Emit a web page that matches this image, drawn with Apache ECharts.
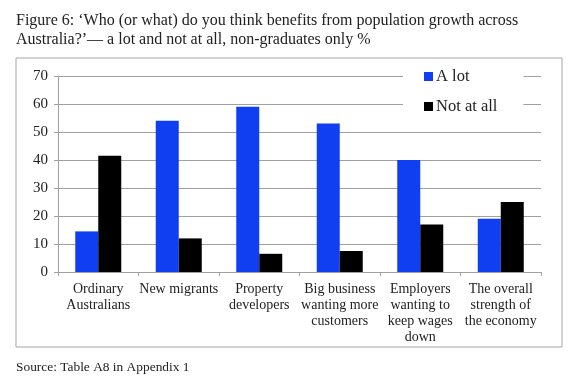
<!DOCTYPE html>
<html><head><meta charset="utf-8">
<style>html,body{margin:0;padding:0;background:#fff}#c{width:578px;height:392px}</style>
<script src="https://cdn.jsdelivr.net/npm/echarts@6/dist/echarts.min.js"></script>
</head><body><div id="c"></div>
<script>
const categories = ["Ordinary\nAustralians","New migrants","Property\ndevelopers","Big business\nwanting more\ncustomers","Employers\nwanting to\nkeep wages\ndown","The overall\nstrength of\nthe economy"];
const aLot = [14.5,54,59,53,40,19];
const notAtAll = [41.5,12,6.5,7.5,17,25];
const yTicks = {min:0,max:70,interval:10};
const serif = '"Liberation Serif"';
const chart = echarts.init(document.getElementById('c'),null,{renderer:'canvas'});
chart.setOption({
  animation:false,
  backgroundColor:'#fff',
  title:[
    {text:"Figure 6: ‘Who (or what) do you think benefits from population growth across\nAustralia?’— a lot and not at all, non-graduates only %",left:16,top:11,padding:0,
     textStyle:{fontFamily:serif,fontSize:16,fontWeight:'normal',color:'#222',lineHeight:19.5}},
    {text:"Source: Table A8 in Appendix 1",left:16,top:361,padding:0,
     textStyle:{fontFamily:serif,fontSize:13.4,fontWeight:'normal',color:'#222'}}
  ],
  graphic:[{type:'rect',z:-1,shape:{x:16,y:58,width:546,height:289},style:{fill:'#fff',stroke:'#a6a6a6',lineWidth:1}}],
  legend:{orient:'vertical',left:403,top:62,itemWidth:9,itemHeight:9,itemGap:13,padding:[6,26,6,21],
    backgroundColor:'#fff',z:5,icon:'rect',
    textStyle:{fontFamily:serif,fontSize:16.5,color:'#222',padding:[6,0,0,-2]},
    data:['A lot','Not at all']},
  grid:{left:58,right:37,top:76,bottom:120,containLabel:false},
  xAxis:{type:'category',data:categories,
    axisLine:{lineStyle:{color:'#a0a0a0'}},
    axisTick:{show:true,alignWithLabel:false,length:4,inside:false,lineStyle:{color:'#a0a0a0'}},
    axisLabel:{interval:0,margin:9,fontFamily:serif,fontSize:14,color:'#222',lineHeight:16}},
  yAxis:{type:'value',min:yTicks.min,max:yTicks.max,interval:yTicks.interval,
    axisLine:{show:true,lineStyle:{color:'#a0a0a0'}},
    axisTick:{show:true,length:4,lineStyle:{color:'#a0a0a0'}},
    splitLine:{lineStyle:{color:'#a0a0a0'}},
    axisLabel:{margin:10,fontFamily:serif,fontSize:15,color:'#222'}},
  series:[
    {name:'A lot',type:'bar',data:aLot,barWidth:23,barGap:'0%',itemStyle:{color:'#0f3ff0'}},
    {name:'Not at all',type:'bar',data:notAtAll,barWidth:23,itemStyle:{color:'#000'}}
  ]
});
</script></body></html>
